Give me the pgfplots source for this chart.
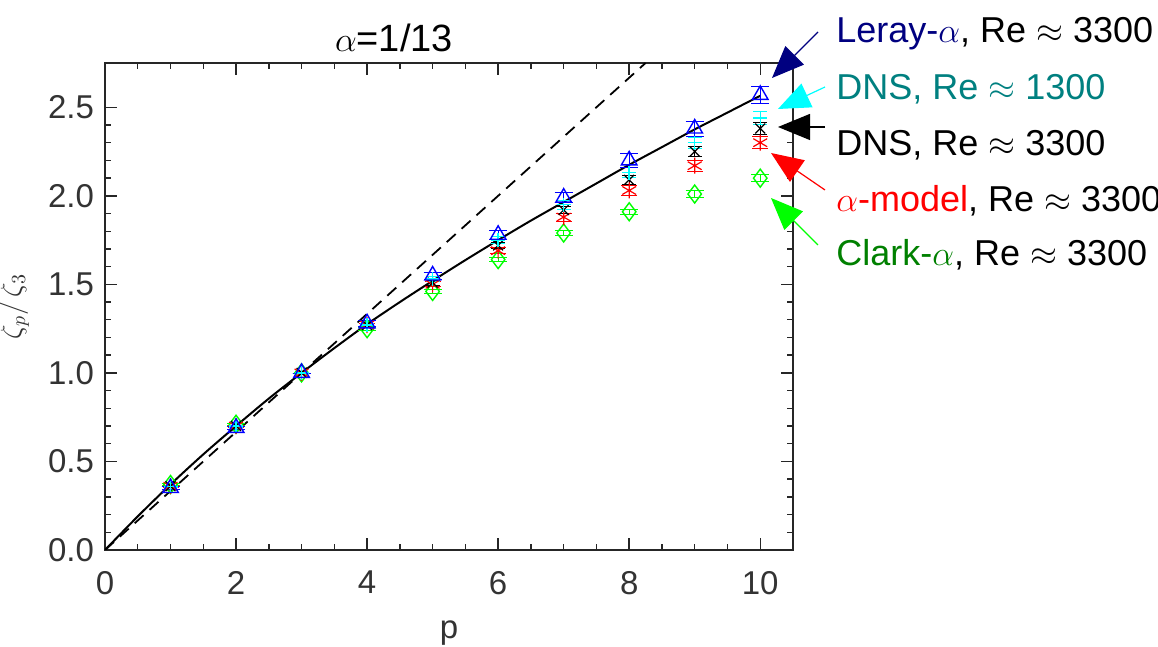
\documentclass[border=0pt]{standalone}
\usepackage{fontspec}
\setmainfont{Liberation Sans}
\usepackage{pgfplots}
\pgfplotsset{compat=1.18}
\usetikzlibrary{arrows.meta}
\definecolor{navyc}{RGB}{0,0,128}
\definecolor{tealc}{RGB}{0,128,128}
\definecolor{darkg}{RGB}{0,128,0}
\definecolor{limec}{RGB}{0,255,0}
\definecolor{cyanc}{RGB}{0,255,255}
\definecolor{bluec}{RGB}{0,0,255}
\begin{document}
\begin{tikzpicture}
\useasboundingbox (0,0) rectangle (579pt,323.5pt);
\begin{axis}[
  at={(52.5pt,48.5pt)}, anchor=south west,
  scale only axis, width=344pt, height=243.5pt,
  xmin=0, xmax=10.5, ymin=0, ymax=2.75,
  xtick={0,2,4,6,8,10}, minor x tick num=3,
  ytick={0,0.5,1,1.5,2,2.5}, minor y tick num=4,
  tick align=inside,
  major tick length=6pt, minor tick length=3pt,
  axis line style={black!85, line width=0.8pt},
  every tick/.style={black!85, line width=0.7pt},
  /pgf/number format/assume math mode=true,
  tick label style={font=\fontsize{16.5}{18}\selectfont, black!80},
  yticklabel style={/pgf/number format/fixed, /pgf/number format/fixed zerofill, /pgf/number format/precision=1, xshift=-2pt},
  xticklabel style={yshift=-7pt},
  xlabel={p},
  xlabel style={at={(axis description cs:0.5,0)}, anchor=base, yshift=-44.5pt, font=\fontsize{16.5}{18}\selectfont, black!80},
  ylabel={$\zeta_p/\,\zeta_3$},
  ylabel style={at={(axis description cs:-0.132,0.5)}, anchor=center, font=\fontsize{14}{16}\selectfont, black!80},
  clip=true,
  error bars/error bar style={line width=0.6pt},
]
% She-Leveque-like curve
\addplot[black, line width=1pt, smooth] coordinates {
(0,0) (0.5,0.19) (1,0.37) (1.5,0.54) (2,0.70) (2.5,0.855) (3,1.0) (3.5,1.14)
(4,1.275) (4.5,1.40) (5,1.52) (5.5,1.637) (6,1.75) (6.5,1.86) (7,1.965)
(7.5,2.07) (8,2.175) (8.5,2.275) (9,2.375) (9.5,2.47) (10,2.565)};
% K41
\addplot[black, line width=0.9pt, dash pattern=on 6pt off 4pt] coordinates {(0,0) (8.25,2.75)};
% Clark-alpha (green diamonds)
\addplot[limec, only marks, mark=diamond, mark size=4.5pt, mark options={line width=0.7pt},
  error bars/.cd, y dir=both, y explicit] coordinates {
(1,0.37) +- (0,0.005) (2,0.71) +- (0,0.005) (3,1.0) +- (0,0.0) (4,1.25) +- (0,0.008)
(5,1.46) +- (0,0.01) (6,1.64) +- (0,0.012) (7,1.79) +- (0,0.014) (8,1.91) +- (0,0.016)
(9,2.01) +- (0,0.018) (10,2.10) +- (0,0.02)};
% alpha-model (red asterisks)
\addplot[red, only marks, mark=asterisk, mark size=4pt, mark options={line width=0.6pt},
  error bars/.cd, y dir=both, y explicit] coordinates {
(1,0.36) +- (0,0.005) (2,0.70) +- (0,0.005) (3,1.0) +- (0,0.0) (4,1.27) +- (0,0.01)
(5,1.50) +- (0,0.014) (6,1.69) +- (0,0.018) (7,1.88) +- (0,0.022) (8,2.03) +- (0,0.026)
(9,2.17) +- (0,0.03) (10,2.30) +- (0,0.035)};
% DNS 3300 (black x)
\addplot[black, only marks, mark=x, mark size=3.5pt, mark options={line width=0.6pt},
  error bars/.cd, y dir=both, y explicit] coordinates {
(1,0.36) +- (0,0.005) (2,0.70) +- (0,0.005) (3,1.0) +- (0,0.0) (4,1.27) +- (0,0.01)
(5,1.51) +- (0,0.014) (6,1.72) +- (0,0.018) (7,1.92) +- (0,0.022) (8,2.09) +- (0,0.026)
(9,2.25) +- (0,0.03) (10,2.38) +- (0,0.035)};
% DNS 1300 (cyan +)
\addplot[cyanc, only marks, mark=+, mark size=3.5pt, mark options={line width=0.7pt},
  error bars/.cd, y dir=both, y explicit] coordinates {
(1,0.36) +- (0,0.005) (2,0.70) +- (0,0.005) (3,1.0) +- (0,0.0) (4,1.27) +- (0,0.01)
(5,1.53) +- (0,0.015) (6,1.75) +- (0,0.02) (7,1.95) +- (0,0.024) (8,2.13) +- (0,0.028)
(9,2.30) +- (0,0.032) (10,2.44) +- (0,0.035)};
% Leray-alpha (blue triangles)
\addplot[bluec, only marks, mark=triangle, mark size=4.5pt, mark options={line width=0.7pt},
  error bars/.cd, y dir=both, y explicit] coordinates {
(1,0.35) +- (0,0.008) (2,0.69) +- (0,0.008) (3,1.0) +- (0,0.0) (4,1.28) +- (0,0.015)
(5,1.55) +- (0,0.02) (6,1.78) +- (0,0.025) (7,1.99) +- (0,0.03) (8,2.20) +- (0,0.037)
(9,2.38) +- (0,0.042) (10,2.57) +- (0,0.05)};
\end{axis}
\begin{scope}[x=0.5pt,y=-0.5pt,yshift=323.5pt]
\node[anchor=base, inner sep=0pt, font=\fontsize{19}{22}\selectfont] at (394,52) {$\alpha$=1/13};
\def\annfont{\fontsize{18}{21}\selectfont}
\node[anchor=base west, inner sep=0pt, font=\annfont] at (836,43) {\textcolor{navyc}{Leray-$\alpha$}, Re $\approx$ 3300};
\node[anchor=base west, inner sep=0pt, font=\annfont, text=tealc] at (836,100) {DNS, Re $\approx$ 1300};
\node[anchor=base west, inner sep=0pt, font=\annfont] at (836,156) {DNS, Re $\approx$ 3300};
\node[anchor=base west, inner sep=0pt, font=\annfont] at (836,212) {\textcolor{red}{$\alpha$-model}, Re $\approx$ 3300};
\node[anchor=base west, inner sep=0pt, font=\annfont] at (836,266) {\textcolor{darkg}{Clark-$\alpha$}, Re $\approx$ 3300};
\tikzset{ann/.style={line width=0.6pt, -{Triangle[length=16pt,width=13pt]}}}
\draw[ann, navyc] (818,32) -- (772,78);
\draw[ann, cyanc] (825,87) -- (778,109);
\draw[ann, black] (825,127) -- (778,127);
\draw[ann, red] (825,190) -- (771,153);
\draw[ann, limec] (818,245) -- (771,198);
\end{scope}
\end{tikzpicture}
\end{document}
